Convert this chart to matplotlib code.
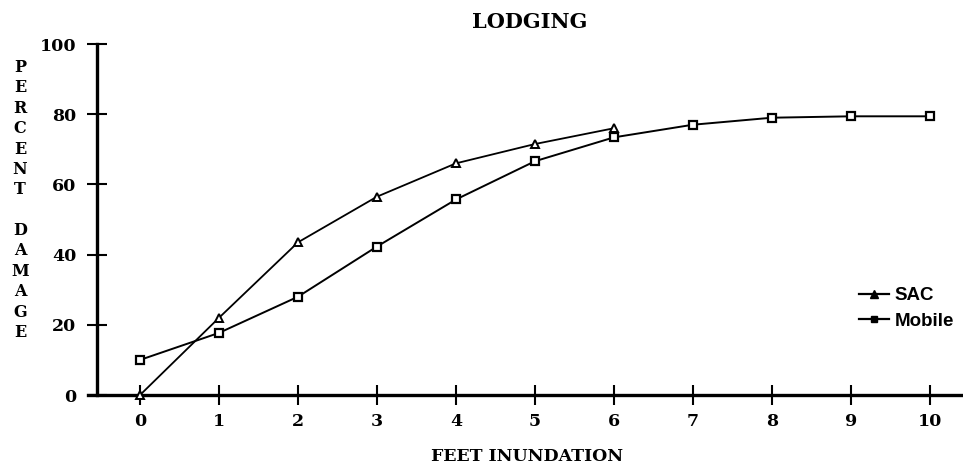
import matplotlib
matplotlib.use("Agg")
import matplotlib.pyplot as plt
from matplotlib.lines import Line2D

feet = [0, 1, 2, 3, 4, 5, 6, 7, 8, 9, 10]
sac_x = [0, 1, 2, 3, 4, 5, 6]
sac = [0, 22, 43.5, 56.5, 66, 71.5, 76]
mobile = [10, 17.7, 28, 42.3, 55.7, 66.6, 73.4, 77, 79, 79.4, 79.4]
yticks = [0, 20, 40, 60, 80, 100]
title = "LODGING"
xlabel = "FEET INUNDATION"
ylabel = "PERCENT DAMAGE"

W, H = 963, 473
fig = plt.figure(figsize=(W / 100, H / 100), dpi=100)
ax = fig.add_axes([97 / W, 1 - 395 / H, 1 - 97 / W, (395 - 44) / H])

ax.plot(sac_x, sac, color="black", lw=1.3, marker="^", ms=6, mfc="white",
        mec="black", mew=1.4, label="SAC", clip_on=False, zorder=3)
ax.plot(feet, mobile, color="black", lw=1.4, marker="s", ms=5.5, mfc="white",
        mec="black", mew=1.6, label="Mobile", clip_on=False, zorder=3)

ax.set_xlim(-0.545, 10.42)
ax.set_ylim(0, 100)
ax.set_xticks(feet)
ax.set_yticks(yticks)
tickfont = dict(family="DejaVu Serif", weight="heavy", size=12.5)
ax.set_xticklabels([str(v) for v in feet], **tickfont)
ax.set_yticklabels([str(v) for v in yticks], **tickfont)
ax.tick_params(axis="both", direction="inout", length=14, width=1.5, color="black")
ax.tick_params(axis="y", pad=8)
ax.tick_params(axis="x", pad=6)

for s in ["top", "right"]:
    ax.spines[s].set_visible(False)
for s in ["left", "bottom"]:
    ax.spines[s].set_linewidth(2.4)
ax.spines["bottom"].set_bounds(-0.66, 10.42)
ax.spines["bottom"].set_clip_on(False)

fig.text(530 / W, 1 - 22 / H, title, ha="center", va="center",
         family="DejaVu Serif", weight="heavy", size=15)
fig.text(527 / W, 1 - 456 / H, xlabel, ha="center", va="center",
         family="DejaVu Serif", weight="heavy", size=12.5)
fig.text(20 / W, 1 - 200 / H, "\n".join(list("PERCENT") + [""] + list("DAMAGE")),
         ha="center", va="center", family="DejaVu Serif", weight="heavy",
         size=11.5, linespacing=1.26)

handles = [Line2D([], [], color="black", lw=1.6, marker="^", ms=6, mfc="black", mec="black"),
           Line2D([], [], color="black", lw=1.6, marker="s", ms=5, mfc="black", mec="black")]
leg = fig.legend(handles, ["SAC", "Mobile"], loc="upper left",
                 bbox_to_anchor=(859 / W, 1 - 287 / H), frameon=False,
                 prop=dict(family="Liberation Sans", weight="bold", size=13.5),
                 handlelength=1.6, handletextpad=0.3, labelspacing=0.45,
                 borderpad=0, borderaxespad=0)

fig.savefig("out.png", dpi=100)
